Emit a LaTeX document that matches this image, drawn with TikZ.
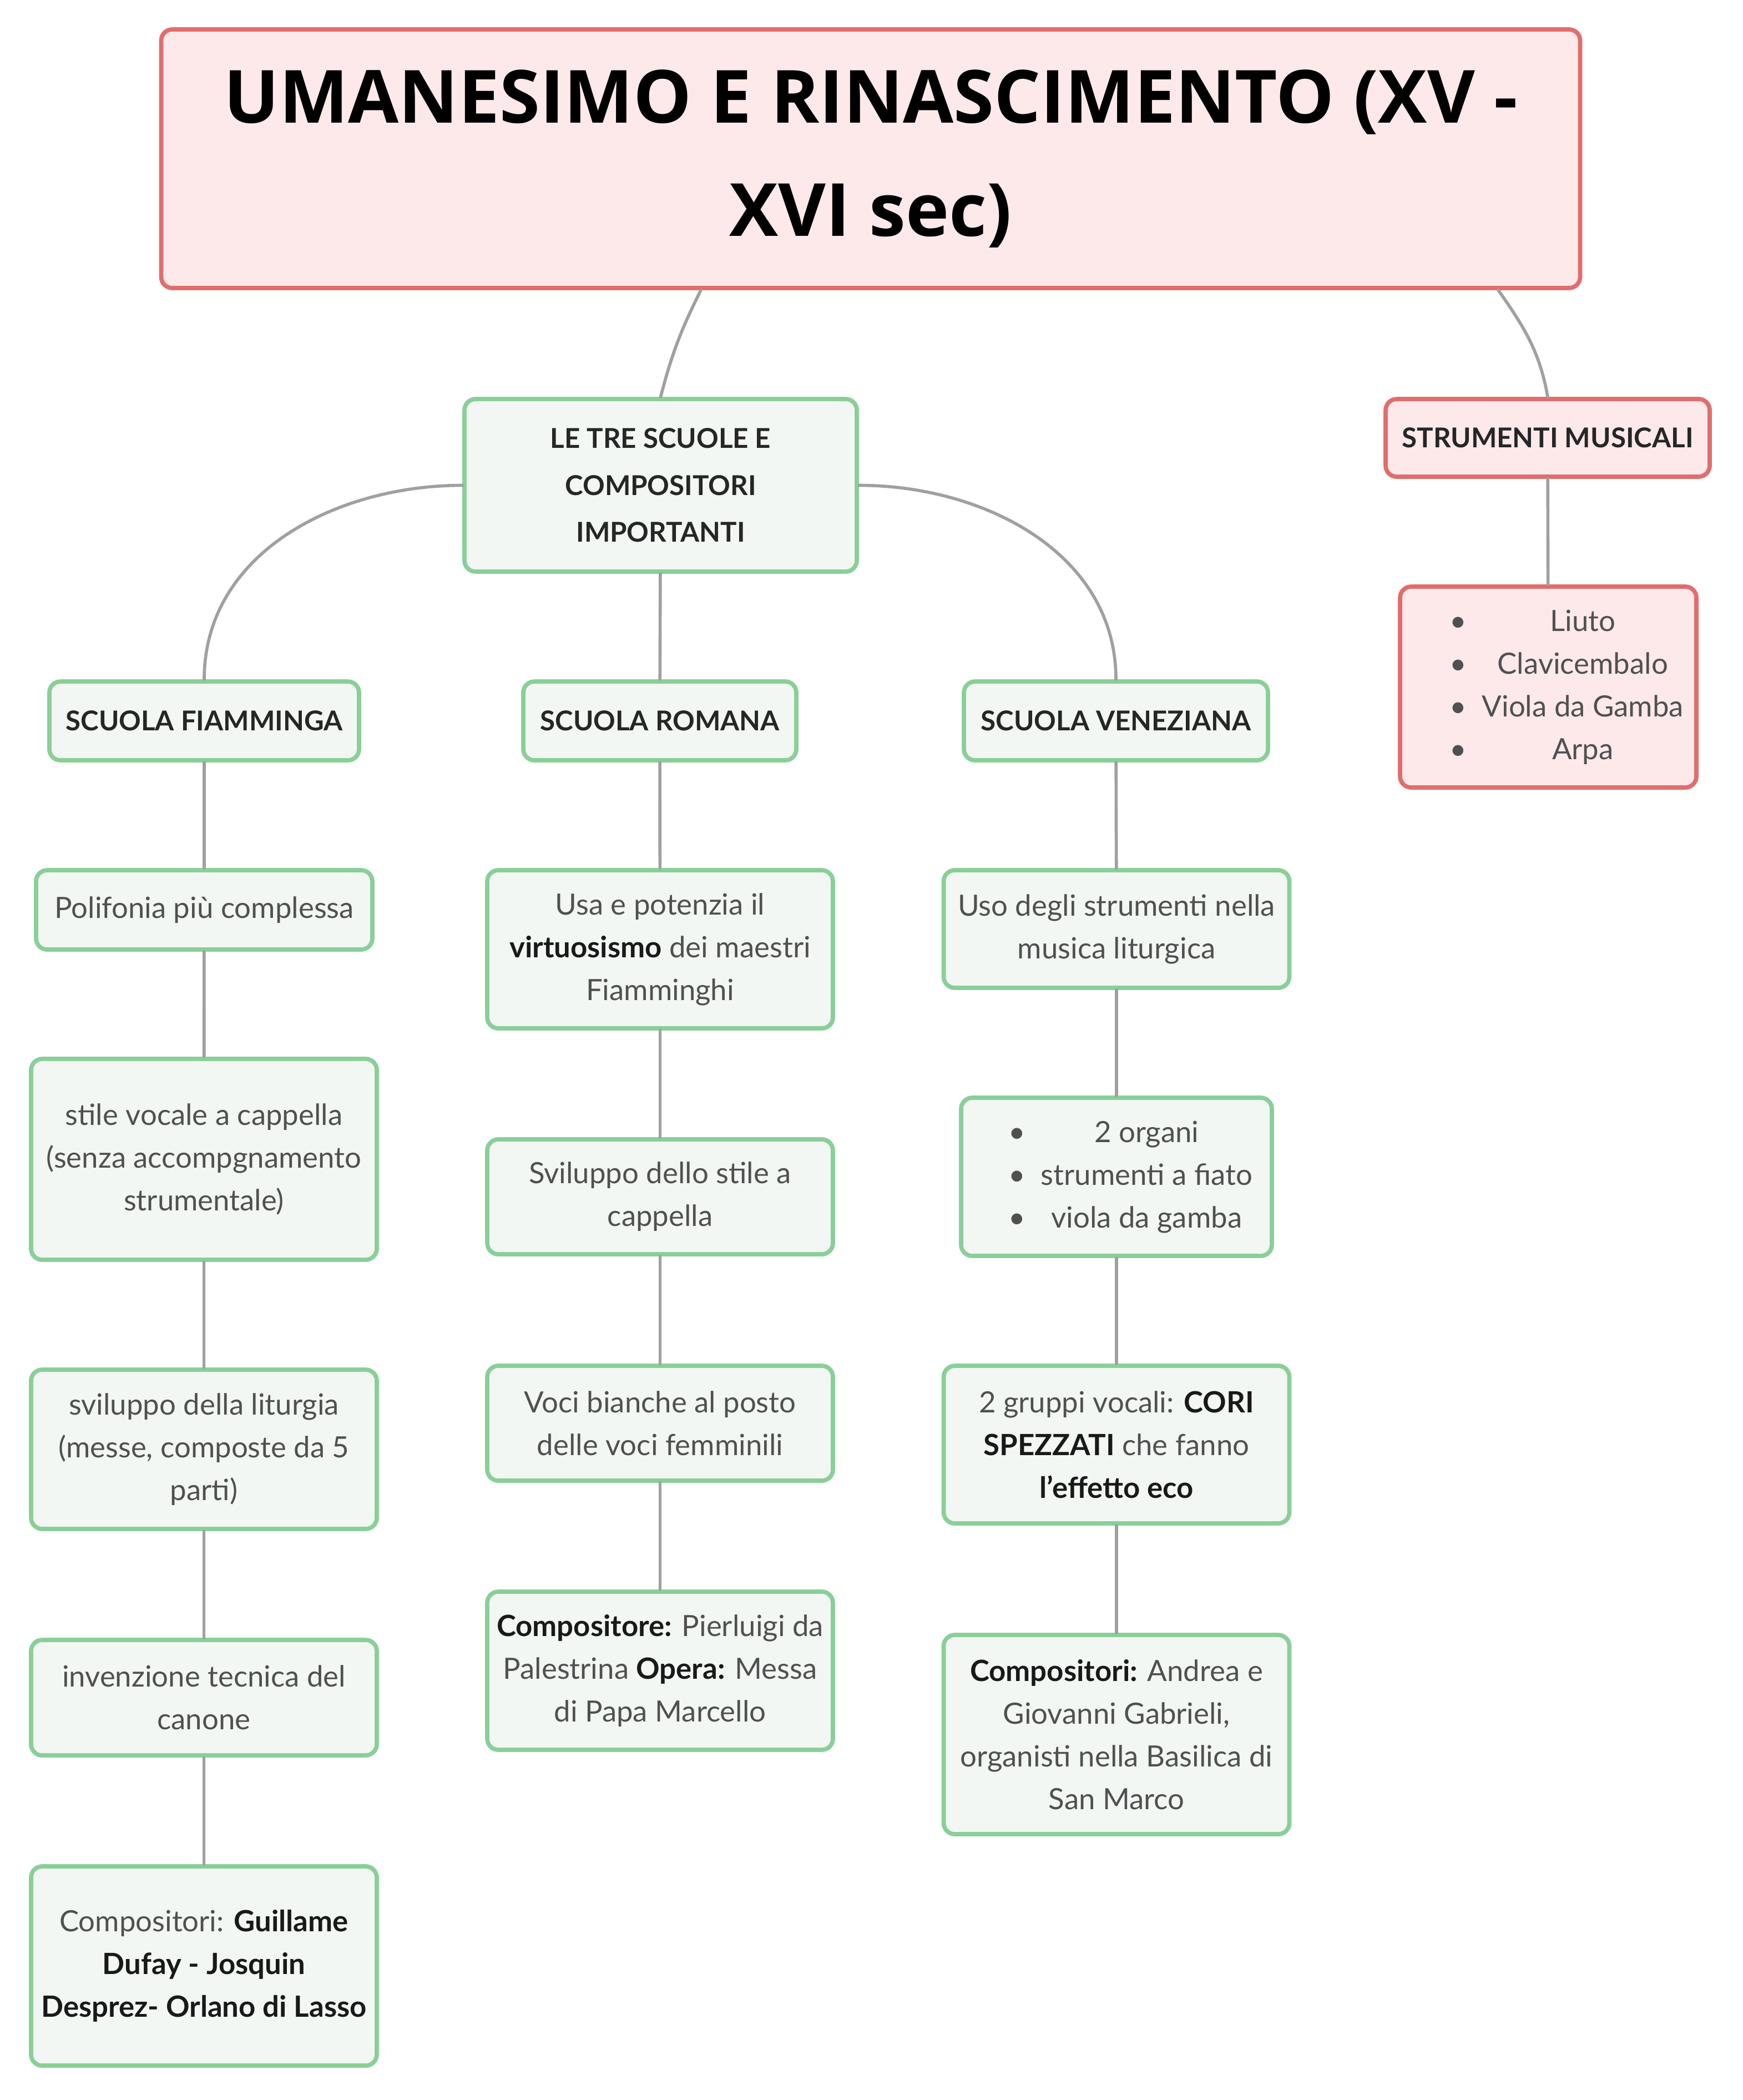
\documentclass[tikz,border=0pt]{standalone}
\usepackage{fontspec}
\setmainfont{Lato}
\newfontfamily\titlefont{Open Sans}
\definecolor{MapGreen}{HTML}{8ACF98}
\definecolor{MapGreenFill}{HTML}{F2F7F3}
\definecolor{MapRed}{HTML}{E26D6D}
\definecolor{MapRedFill}{HTML}{FDE9EA}
\definecolor{MapLine}{HTML}{A0A0A0}
\definecolor{MapText}{HTML}{505050}
\newcommand\bld[1]{\textcolor{black!90}{\bfseries #1}}

\begin{document}
\begin{tikzpicture}[line cap=round,line join=round,
  box/.style={rounded corners=0.2cm,line width=2.2pt,align=center,inner sep=0pt},
  greenbox/.style={box,draw=MapGreen,fill=MapGreenFill,text=MapText,
    font=\fontsize{15}{21.9}\selectfont},
  redbox/.style={box,draw=MapRed,fill=MapRedFill,text=MapText,
    font=\fontsize{15}{21.9}\selectfont},
  head/.style={text=black!85,font=\fontsize{14}{24}\selectfont\bfseries},
  leafcol/.style={minimum width=6.23cm},
  link/.style={draw=MapLine,line width=1.6pt}]
  \useasboundingbox (0,0) rectangle (31.41,-37.84);
  \node[box,draw=MapRed,fill=MapRedFill,minimum width=25.57cm,minimum height=4.66cm,
    font=\fontsize{37.6}{58}\selectfont\titlefont\bfseries] (title) at (15.69,-2.86)
    {UMANESIMO E RINASCIMENTO (XV -\\XVI sec)};
  % the three schools
  \node[greenbox,head,minimum width=7.07cm,minimum height=3.11cm] (tre) at (11.905,-8.745)
    {LE TRE SCUOLE E\\COMPOSITORI\\IMPORTANTI};
  \node[greenbox,head,minimum width=5.58cm,minimum height=1.42cm] (fiam) at (3.68,-12.99) {SCUOLA FIAMMINGA};
  \node[greenbox,head,minimum width=4.92cm,minimum height=1.42cm] (rom) at (11.89,-12.99) {SCUOLA ROMANA};
  \node[greenbox,head,minimum width=5.48cm,minimum height=1.42cm] (ven) at (20.11,-12.99) {SCUOLA VENEZIANA};
  % fiamminga
  \node[greenbox,minimum width=6.06cm,minimum height=1.43cm] (poli) at (3.68,-16.395) {Polifonia più complessa};
  \node[greenbox,leafcol,minimum height=3.62cm] (stile) at (3.675,-20.89)
    {stile vocale a cappella\\(senza accompgnamento\\strumentale)};
  \node[greenbox,leafcol,minimum height=2.87cm] (litu) at (3.675,-26.115)
    {sviluppo della liturgia\\(messe, composte da 5\\parti)};
  \node[greenbox,leafcol,minimum height=2.08cm] (cano) at (3.675,-30.59) {invenzione tecnica del\\canone};
  \node[greenbox,leafcol,minimum height=3.59cm] (compf) at (3.675,-35.425)
    {Compositori: \bld{Guillame}\\\bld{Dufay - Josquin}\\\bld{Desprez- Orlano di Lasso}};
  % romana
  \node[greenbox,leafcol,minimum height=2.85cm] (virt) at (11.895,-17.105)
    {Usa e potenzia il\\\bld{virtuosismo} dei maestri\\Fiamminghi};
  \node[greenbox,leafcol,minimum height=2.07cm] (capp) at (11.895,-21.565) {Sviluppo dello stile a\\cappella};
  \node[greenbox,leafcol,minimum height=2.07cm] (voci) at (11.895,-25.645) {Voci bianche al posto\\delle voci femminili};
  \node[greenbox,leafcol,minimum height=2.85cm] (pale) at (11.895,-30.105)
    {\bld{Compositore:} Pierluigi da\\Palestrina \bld{Opera:} Messa\\di Papa Marcello};
  % veneziana
  \node[greenbox,leafcol,minimum height=2.12cm] (uso) at (20.12,-16.74) {Uso degli strumenti nella\\musica liturgica};
  \node[greenbox,minimum width=5.6cm,minimum height=2.85cm] (orga) at (20.12,-21.205)
    {\hspace*{0.5cm}\begin{tabular}{@{}l@{\hspace{0.28cm}}c@{}}•&2 organi\\•&strumenti a fiato\\•&viola da gamba\end{tabular}};
  \node[greenbox,leafcol,minimum height=2.84cm] (cori) at (20.12,-26.03)
    {2 gruppi vocali: \bld{CORI}\\\bld{SPEZZATI} che fanno\\\bld{l'effetto eco}};
  \node[greenbox,leafcol,minimum height=3.59cm] (gabr) at (20.12,-31.255)
    {\bld{Compositori:} Andrea e\\Giovanni Gabrieli,\\organisti nella Basilica di\\San Marco};
  % strumenti
  \node[redbox,head,minimum width=5.84cm,minimum height=1.4cm] (strum) at (27.89,-7.89) {STRUMENTI MUSICALI};
  \node[redbox,minimum width=5.34cm,minimum height=3.62cm] (inst) at (27.9,-12.38)
    {\hspace*{0.66cm}\begin{tabular}{@{}l@{\hspace{0.28cm}}c@{}}•&Liuto\\•&Clavicembalo\\•&Viola da Gamba\\•&Arpa\end{tabular}};
  % connectors
  \draw[link] ([xshift=-3.06cm]title.south) to[bend right=6] (tre.north);
  \draw[link] ([xshift=11.31cm]title.south) to[out=-55,in=100] (strum.north);
  \draw[link] (tre.west) to[out=180,in=90] (fiam.north);
  \draw[link] (tre.east) to[out=0,in=90] (ven.north);
  \foreach \a/\b in {tre/rom,fiam/poli,poli/stile,stile/litu,litu/cano,cano/compf,
    rom/virt,virt/capp,capp/voci,voci/pale,ven/uso,uso/orga,orga/cori,cori/gabr,strum/inst}
    \draw[link] (\a) -- (\b);
\end{tikzpicture}
\end{document}
